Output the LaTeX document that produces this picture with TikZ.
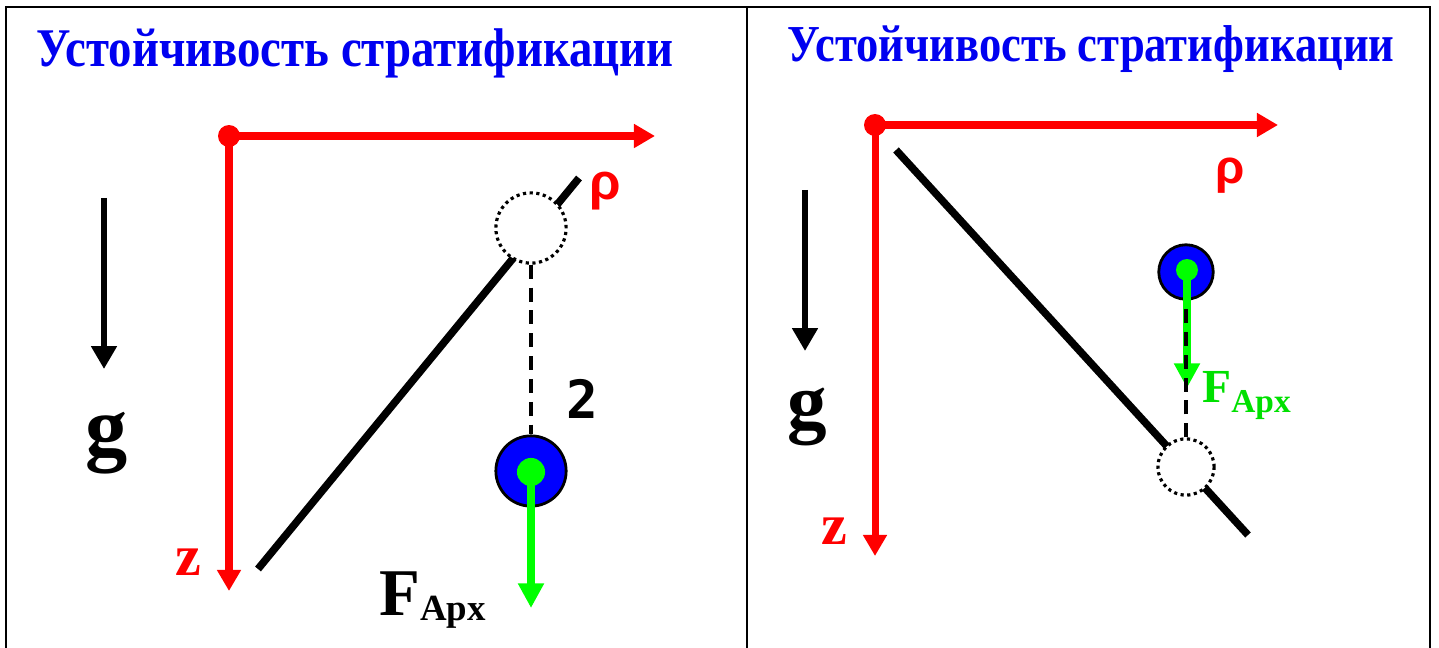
\documentclass[tikz,border=0pt]{standalone}
\usepackage{fontspec}
\setmainfont{Liberation Serif}
\newfontfamily\titlefont{Liberation Serif}[FakeStretch=0.86]
\newfontfamily\greekfont{Liberation Sans}
\newfontfamily\digitfont{DejaVu Sans Mono}
\usepackage{tikz}
\usetikzlibrary{arrows.meta}
\definecolor{titleblue}{HTML}{0000F0}
\definecolor{axisred}{HTML}{FF0000}
\definecolor{forcegreen}{HTML}{00FF00}
\definecolor{labelgreen}{HTML}{00E000}
\definecolor{ballblue}{HTML}{0000FF}

\begin{document}
\begin{tikzpicture}[
    x=0.02cm, y=-0.02cm,
    title/.style={
      font=\titlefont\fontsize{31}{34}\selectfont\bfseries,
      text=titleblue, anchor=base, inner sep=0pt
    },
    axis/.style={-{Triangle[length=12pt,width=13pt]}, line width=4pt, draw=axisred},
    origin/.style={circle, fill=axisred, inner sep=0pt, minimum size=12.5pt},
    axislabel/.style={font=\fontsize{33}{33}\selectfont\bfseries, text=axisred, anchor=base, inner sep=0pt},
    rholabel/.style={font=\greekfont\fontsize{29}{29}\selectfont\bfseries, text=axisred, anchor=base, inner sep=0pt},
    gravity/.style={-{Triangle[length=13pt,width=14pt]}, line width=3.5pt, draw=black},
    glabel/.style={font=\fontsize{48}{48}\selectfont\bfseries, anchor=base, inner sep=0pt},
    slope/.style={line width=4.3pt, draw=black},
    ghost/.style={circle, draw=black, fill=white, line width=1.8pt,
      dash pattern=on 1.8pt off 2pt, inner sep=0pt},
    ball/.style={circle, draw=black, fill=ballblue, line width=1.6pt, inner sep=0pt},
    core/.style={circle, fill=forcegreen, inner sep=0pt},
    force/.style={-{Triangle[length=14pt,width=14pt]}, line width=4.5pt, draw=forcegreen},
    link/.style={line width=2pt, draw=black, dash pattern=on 8pt off 5pt}
  ]
    \useasboundingbox (0,0) rectangle (1439,648);

    % ── Frame ─────────────────────────────────────────────────────────────
    \draw[line width=1.4pt] (6,648) -- (6,7) -- (1430,7) -- (1430,648);
    \draw[line width=1.4pt] (747,7) -- (747,648);

    % ── LEFT PANEL ────────────────────────────────────────────────────────
    \node[title] (titleL) at (355,67) {Устойчивость стратификации};

    % axes
    \coordinate (oL) at (229,136);
    \coordinate (rhoL) at (655,136);
    \coordinate (zL) at (229,591);
    \draw[axis] (oL) -- (rhoL);
    \draw[axis] (oL) -- (zL);
    \node[origin] (dotL) at (oL) {};
    \node[axislabel] (zlabL) at (188,575) {z};
    \node[rholabel] (rholabL) at (605,200) {ρ};

    % gravity
    \coordinate (gTopL) at (104,198);
    \coordinate (gTipL) at (104,369);
    \draw[gravity] (gTopL) -- (gTipL);
    \node[glabel] (glabL) at (107,455) {g};

    % stratification line, parcel
    \coordinate (lineTopL) at (579,178);
    \coordinate (lineEndL) at (258,569);
    \draw[slope] (lineEndL) -- (lineTopL);
    \node[ghost, minimum size=40pt] (ghostL) at (531,228) {};
    \node[ball, minimum size=40pt] (ballL) at (531,471) {};
    \node[core, minimum size=16pt] (coreL) at (531,472) {};
    \draw[link] (ghostL.south) -- (ballL.north);
    \node[font=\digitfont\fontsize{30}{30}\selectfont\bfseries, anchor=base, inner sep=0pt] (stepL) at (582,418) {2};

    % buoyancy
    \coordinate (fTipL) at (531,608);
    \draw[force] (coreL.center) -- (fTipL);
    \node[anchor=base west, inner sep=0pt, font=\bfseries] (fLabL) at (379,615)
      {{\fontsize{38}{38}\selectfont F}\raisebox{-3pt}{\fontsize{21}{21}\selectfont Арх}};

    % ── RIGHT PANEL ───────────────────────────────────────────────────────
    \node[title, font=\titlefont\fontsize{29.5}{34}\selectfont\bfseries] (titleR) at (1091,62) {Устойчивость стратификации};

    % axes
    \coordinate (oR) at (875,125);
    \coordinate (rhoR) at (1278,125);
    \coordinate (zR) at (875,556);
    \draw[axis] (oR) -- (rhoR);
    \draw[axis] (oR) -- (zR);
    \node[origin] (dotR) at (oR) {};
    \node[axislabel] (zlabR) at (834,544) {z};
    \node[rholabel, font=\greekfont\fontsize{27}{27}\selectfont\bfseries] (rholabR) at (1230,184) {ρ};

    % gravity
    \coordinate (gTopR) at (805,190);
    \coordinate (gTipR) at (805,351);
    \draw[gravity] (gTopR) -- (gTipR);
    \node[glabel, font=\fontsize{45}{45}\selectfont\bfseries] (glabR) at (807,428) {g};

    % stratification line, parcel
    \coordinate (lineTopR) at (896,150);
    \coordinate (lineEndR) at (1248,535);
    \draw[slope] (lineTopR) -- (lineEndR);
    \node[ghost, minimum size=32pt] (ghostR) at (1186,467) {};
    \node[ball, minimum size=31pt] (ballR) at (1186,272) {};
    \node[core, minimum size=12.5pt] (coreR) at (1187,270) {};

    % buoyancy
    \coordinate (fTipR) at (1187,388);
    \draw[force] (coreR.center) -- (fTipR);
    \draw[link] (ghostR.north) -- (ballR.south);
    \node[anchor=base west, inner sep=0pt, font=\bfseries, text=labelgreen] (fLabR) at (1202,402)
      {{\fontsize{27}{27}\selectfont F}\raisebox{-6pt}{\fontsize{19}{19}\selectfont Арх}};

\end{tikzpicture}
\end{document}
